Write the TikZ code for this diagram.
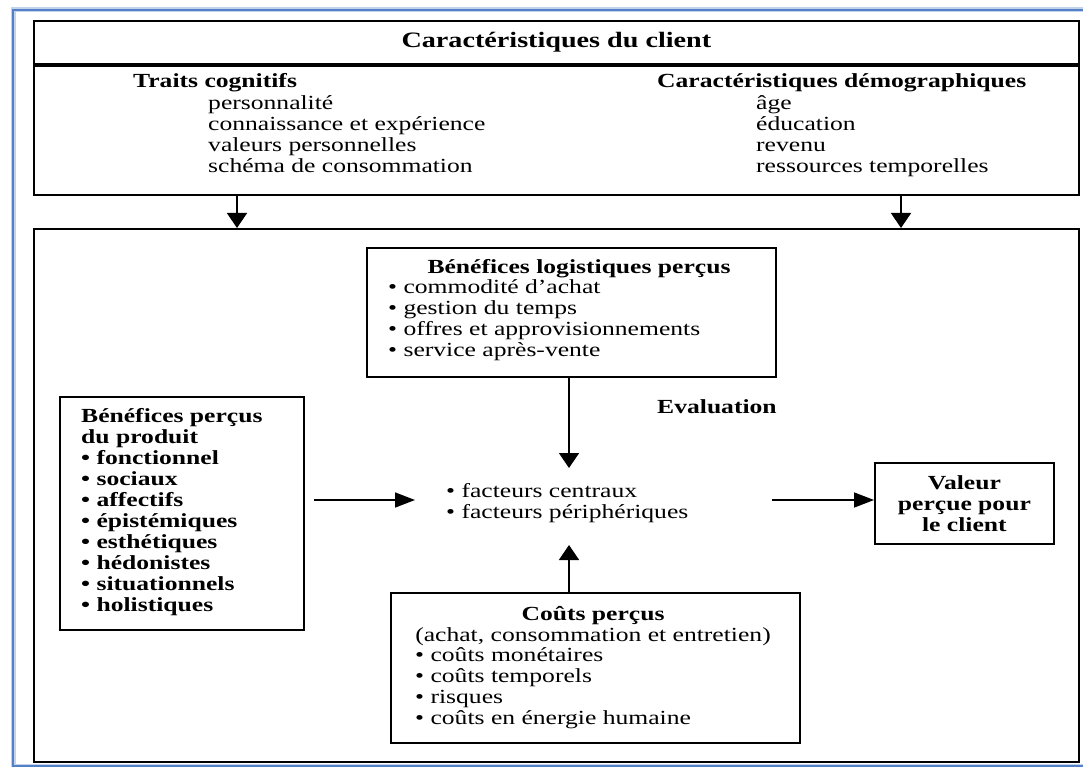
\documentclass[tikz,border=0pt]{standalone}
\usepackage{fontspec}
\setmainfont[FakeStretch=1.28]{Liberation Serif}
\usetikzlibrary{arrows.meta}
\definecolor{framecol}{RGB}{84,128,200}

\begin{document}
\begin{tikzpicture}[x=1pt,y=-1pt,
    every node/.style={font=\fontsize{20}{21}\selectfont, inner sep=0pt},
    box/.style={draw, line width=1.8pt, anchor=north west},
    lst/.style={anchor=base west, align=left},  % base = last line
    gras/.style={font=\fontsize{20}{21}\selectfont\bfseries},
    varr/.style={-{Triangle[length=15pt,width=20pt]}, line width=1.6pt},
    harr/.style={-{Triangle[length=20pt,width=15pt]}, line width=1.6pt}]
    \useasboundingbox (0,0) rectangle (1083,767);
    \fill[white] (0,0) rectangle (1083,767);

    % cadre bleu
    \draw[framecol!35, line width=5pt] (13,10) rectangle (1100,766);
    \draw[framecol, line width=2pt] (13,10) rectangle (1100,766);

    % caracteristiques du client
    \node[box, font=\fontsize{22}{23}\selectfont\bfseries, minimum width=1045pt, minimum height=43pt] (titre) at (33,20) {Caractéristiques du client};
    \node[box, minimum width=1045pt, minimum height=129pt] (client) at (titre.south west) {};
    \node[lst, gras] (cog) at (133,88) {Traits cognitifs};
    \node[lst] (cogl) at (208,173) {personnalité\\connaissance et expérience\\valeurs personnelles\\schéma de consommation};
    \node[lst, gras] (demo) at (657,88) {Caractéristiques démographiques};
    \node[lst] (demol) at (756,173) {âge\\éducation\\revenu\\ressources temporelles};

    % cadre de la valeur
    \node[box, minimum width=1045pt, minimum height=533pt] (offre) at (33,228) {};
    \node[box, minimum width=409pt, minimum height=129pt] (logi) at (366,247) {};
    \node[anchor=base, gras] (logit) at (579,273) {Bénéfices logistiques perçus};
    \node[lst] (logil) at (388,356) {\textbullet\ commodité d’achat\\\textbullet\ gestion du temps\\\textbullet\ offres et approvisionnements\\\textbullet\ service après-vente};

    \node[box, minimum width=244pt, minimum height=233pt] (produit) at (59,396) {};
    \node[lst, gras] (produitl) at (81,611) {Bénéfices perçus\\du produit\\\textbullet\ fonctionnel\\\textbullet\ sociaux\\\textbullet\ affectifs\\\textbullet\ épistémiques\\\textbullet\ esthétiques\\\textbullet\ hédonistes\\\textbullet\ situationnels\\\textbullet\ holistiques};

    \node[lst, gras] (evallab) at (657,413) {Evaluation};
    \node[lst] (fact) at (446,518) {\textbullet\ facteurs centraux\\\textbullet\ facteurs périphériques};

    \node[box, minimum width=409pt, minimum height=150pt] (couts) at (390,592) {};
    \node[anchor=base, gras] (coutst) at (593,620) {Coûts perçus};
    \node[anchor=base] (coutss) at (593,641) {(achat, consommation et entretien)};
    \node[lst] (coutsl) at (415,724) {\textbullet\ coûts monétaires\\\textbullet\ coûts temporels\\\textbullet\ risques\\\textbullet\ coûts en énergie humaine};

    \node[box, gras, align=center, minimum width=179pt, minimum height=81pt] (valeur) at (874,462) {Valeur\\perçue pour\\le client};

    % fleches
    \coordinate (g) at (237,0);
    \coordinate (d) at (901,0);
    \coordinate (evalN) at (569,468);
    \coordinate (evalS) at (569,545);
    \coordinate (evalW) at (415,500);
    \coordinate (evalE) at (772,500);
    \draw[varr] (client.south -| g) -- (offre.north -| g);
    \draw[varr] (client.south -| d) -- (offre.north -| d);
    \draw[varr] (logi.south -| evalN) -- (evalN);
    \draw[varr] (couts.north -| evalS) -- (evalS);
    \draw[harr] ([xshift=9pt]produit.east |- evalW) -- (evalW);
    \draw[harr] (evalE) -- (valeur.west |- evalE);
\end{tikzpicture}
\end{document}
